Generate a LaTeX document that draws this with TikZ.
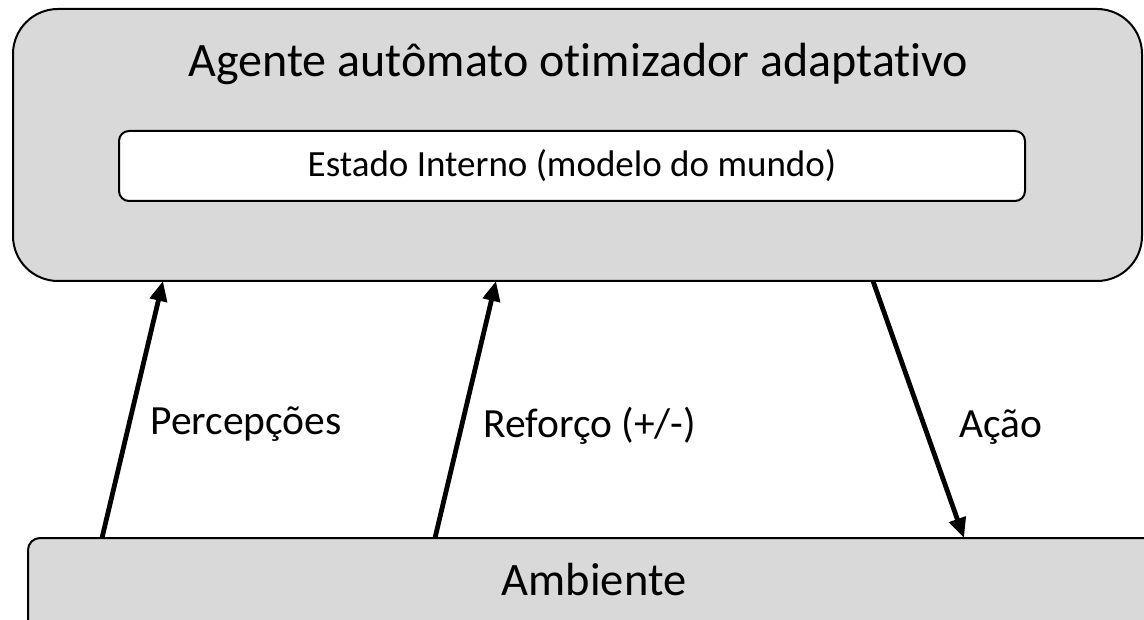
\documentclass[tikz,border=0pt]{standalone}
\usepackage{fontspec}
\setmainfont{Carlito}[Ligatures=NoCommon]
\usetikzlibrary{arrows.meta}
\definecolor{cinza}{HTML}{D9D9D9}

\begin{document}
\begin{tikzpicture}[x=1pt,y=-1pt,
    caixa/.style={draw=black,line width=2pt,fill=cinza,inner sep=0pt},
    seta/.style={line width=4.8pt,-{Triangle[length=20pt,width=17pt]}},
    rotulo/.style={anchor=base west,font=\fontsize{41.5}{50}\selectfont}]
      \useasboundingbox (0,0) rectangle (1144,620) ;
      \node[caixa,rounded corners=45pt,minimum width=1129pt,minimum height=272pt] %
      (agente) at (577.5,145) {} ;
      \node[anchor=base,font=\fontsize{48}{58}\selectfont] (titulo) at (578.5,77) %
      {Agente autômato otimizador adaptativo} ;
      \node[caixa,fill=white,rounded corners=10pt,minimum width=906pt,minimum height=70pt] %
      (estado) at (572,166) {} ;
      \node[anchor=base,font=\fontsize{37}{44}\selectfont] (estadotxt) at (572,177) %
      {Estado Interno (modelo do mundo)} ;
      \node[caixa,rounded corners=12pt,minimum width=1132pt,minimum height=122pt] %
      (ambiente) at (594,599) {} ;
      \node[anchor=base,font=\fontsize{46.5}{56}\selectfont] (ambientetxt) at (594,595) {Ambiente} ;
      \coordinate (pa) at (102,538) ; \coordinate (pb) at (163,281) ;
      \coordinate (ra) at (435,538) ; \coordinate (rb) at (496,281) ;
      \coordinate (aa) at (873,281) ; \coordinate (ab) at (964,538) ;
      \draw[seta] (pa) -- (pb) ;
      \draw[seta] (ra) -- (rb) ;
      \draw[seta] (aa) -- (ab) ;
      \node[rotulo] (percepcoes) at (147,435) {Percepções} ;
      \node[rotulo] (reforco) at (480,437) {Reforço (+/-)} ;
      \node[rotulo] (acao) at (956,437) {Ação} ;
    \end{tikzpicture}
\end{document}
